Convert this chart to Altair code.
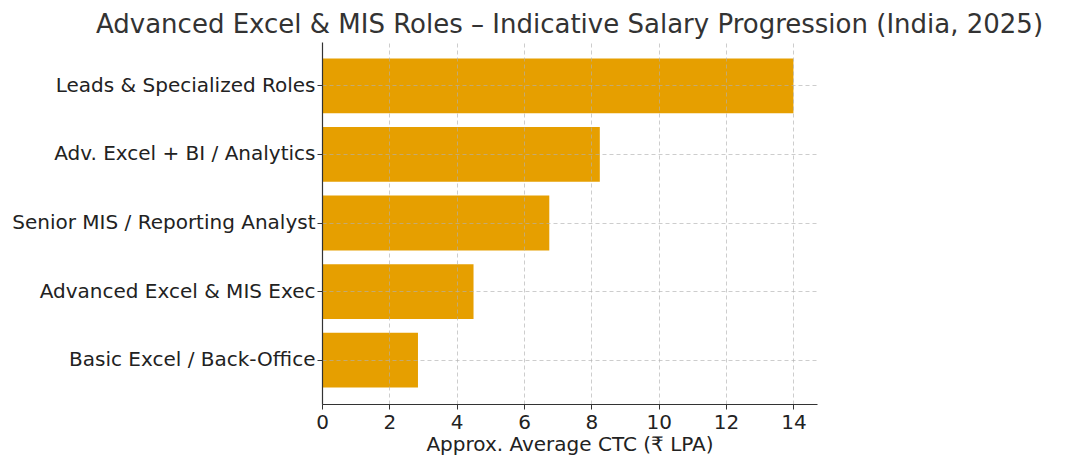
import altair as alt
import pandas as pd

roles = [
    "Leads & Specialized Roles",
    "Adv. Excel + BI / Analytics",
    "Senior MIS / Reporting Analyst",
    "Advanced Excel & MIS Exec",
    "Basic Excel / Back-Office",
]
ctc = [14.0, 8.25, 6.75, 4.5, 2.85]
x_ticks = [0, 2, 4, 6, 8, 10, 12, 14]

df = pd.DataFrame({"role": roles, "ctc": ctc})

FONT = "DejaVu Sans"

chart = (
    alt.Chart(df)
    .mark_bar(color="#E69F00")
    .encode(
        x=alt.X(
            "ctc:Q",
            scale=alt.Scale(domain=[0, 14.7], nice=False, zero=True),
            axis=alt.Axis(
                title="Approx. Average CTC (₹ LPA)",
                values=x_ticks,
                format="d",
                grid=True,
                gridDash=[4, 3],
                gridColor="#b0b0b0",
                gridOpacity=0.8,
                gridWidth=0.8,
                domainColor="#333333",
                domainWidth=1.2,
                tickColor="#333333",
                tickSize=5,
                labelFontSize=20,
                labelColor="#222222",
                labelPadding=3,
                labelFlush=False,
                titleFontSize=20,
                titleColor="#222222",
                titleFontWeight="normal",
                titlePadding=2,
                zindex=1,
            ),
        ),
        y=alt.Y(
            "role:N",
            sort=roles,
            scale=alt.Scale(paddingInner=0.2, paddingOuter=0.24),
            axis=alt.Axis(
                title=None,
                grid=True,
                gridDash=[4, 3],
                gridColor="#b0b0b0",
                gridOpacity=0.8,
                gridWidth=0.8,
                domainColor="#333333",
                domainWidth=1.2,
                tickColor="#333333",
                tickSize=5,
                labelFontSize=20,
                labelColor="#222222",
                labelPadding=2,
                labelLimit=400,
                zindex=1,
            ),
        ),
    )
    .properties(
        width=495,
        height=362,
        title=alt.TitleParams(
            "Advanced Excel & MIS Roles – Indicative Salary Progression (India, 2025)",
            fontSize=26,
            fontWeight="normal",
            color="#333333",
            anchor="middle",
            offset=4,
            font=FONT,
        ),
        autosize=alt.AutoSizeParams(type="none"),
        padding={"left": 314, "top": 34, "right": 241, "bottom": 54},
    )
    .configure(font=FONT)
    .configure_view(stroke=None)
)

chart.save("out.html", embed_options={"renderer": "svg", "actions": False})
